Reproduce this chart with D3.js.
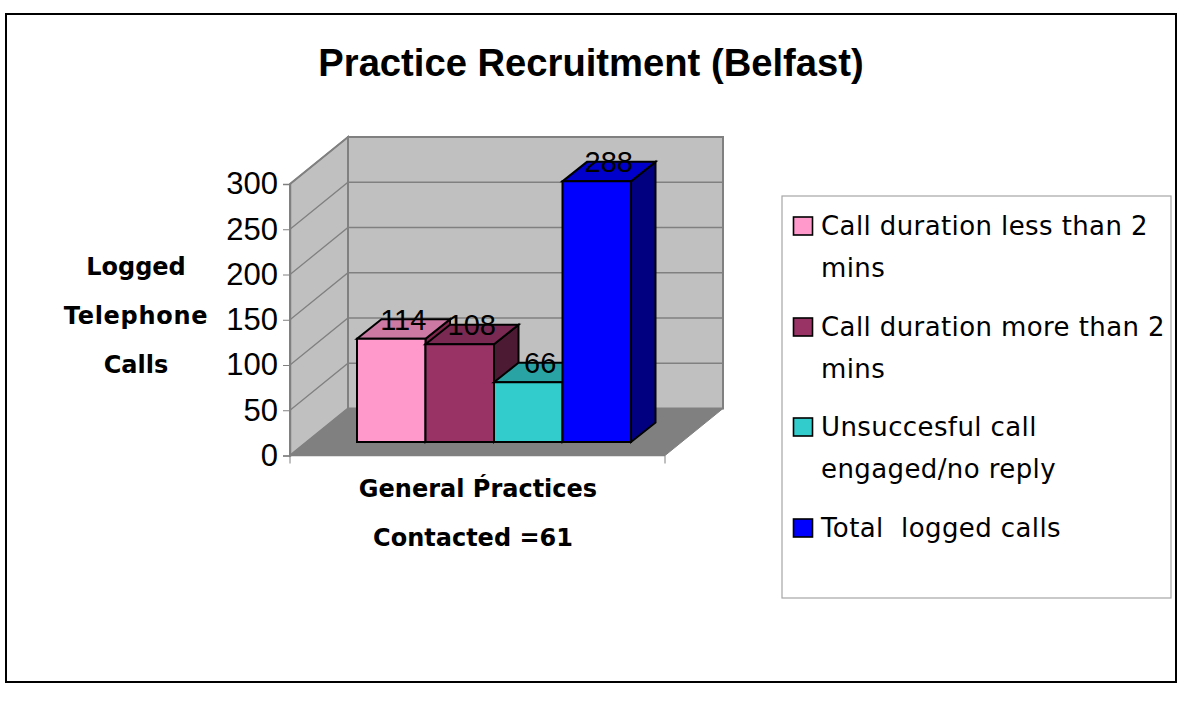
<!DOCTYPE html>
<html>
<head>
<meta charset="utf-8">
<script src="https://cdn.jsdelivr.net/npm/d3@7"></script>
<style>
html, body { margin: 0; padding: 0; background: white; }
svg { display: block; }
</style>
</head>
<body>
<script>
var seriesNames = ['Call duration less than 2 mins', 'Call duration more than 2 mins', 'Unsuccesful call engaged/no reply', 'Total  logged calls'];
var seriesValues = [114, 108, 66, 288];
var yTicks = [0, 50, 100, 150, 200, 250, 300];
var legendLines = [['Call duration less than 2', 'mins'], ['Call duration more than 2', 'mins'], ['Unsuccesful call', 'engaged/no reply'], ['Total  logged calls']];
var yLabelLines = ['Logged', 'Telephone', 'Calls'];
var xLabelLines = ['General Ṕractices', 'Contacted =61'];

var frontColors = ['#ff99cc', '#993366', '#33cccc', '#0000ff'];
var topColors = ['#cc7aa3', '#7a2952', '#29a3a3', '#0000cc'];
var sideColors = ['#80264d', '#4d1a33', '#1a6666', '#000080'];

var svg = d3.select('body').append('svg').attr('width', 1200).attr('height', 708);

svg.append('rect')
    .attr('x', 6).attr('y', 14).attr('width', 1170).attr('height', 668)
    .style('fill', 'white').style('stroke', 'black').style('stroke-width', 2);

svg.append('text')
    .attr('x', 591).attr('y', 76)
    .text('Practice Recruitment (Belfast)')
    .attr('text-anchor', 'middle')
    .style('font-family', '"Liberation Sans"')
    .style('font-weight', 'bold')
    .style('font-size', '38.2px');

// wall depth and plot frame
var depthX = 58, depthY = -47;
var left = 290, right = 665;
var y = d3.scaleLinear().domain([0, 300]).range([455.5, 184]);
var y0 = y(0), yTop = y(300);

function poly(points, fill, stroke, width) {
    return svg.append('polygon')
        .attr('points', points.map(function(p) { return p.join(','); }).join(' '))
        .style('fill', fill)
        .style('stroke', stroke)
        .style('stroke-width', width)
        .style('stroke-linejoin', 'miter');
}

// side wall, back wall, floor
poly([[left, y0], [left + depthX, y0 + depthY], [left + depthX, yTop + depthY], [left, yTop]], '#c0c0c0', '#808080', 2);
poly([[left + depthX, y0 + depthY], [right + depthX, y0 + depthY], [right + depthX, yTop + depthY], [left + depthX, yTop + depthY]], '#c0c0c0', '#808080', 2);
poly([[left, y0], [right, y0], [right + depthX, y0 + depthY], [left + depthX, y0 + depthY]], '#808080', '#808080', 1);

yTicks.slice(1).forEach(function(t) {
    svg.append('path')
        .attr('d', d3.line()([[left, y(t)], [left + depthX, y(t) + depthY], [right + depthX, y(t) + depthY]]))
        .style('fill', 'none')
        .style('stroke', '#808080')
        .style('stroke-width', 1.3);
});

// axis
var yAxis = svg.append('g')
    .attr('transform', 'translate(' + left + ',0)')
    .call(d3.axisLeft(y).tickValues(yTicks).tickSize(7).tickPadding(5));
yAxis.select('.domain').style('stroke', '#808080').style('stroke-width', 1.5);
yAxis.selectAll('line').style('stroke', '#808080');
yAxis.selectAll('text')
    .style('font-family', '"Liberation Sans"')
    .style('font-size', '31px')
    .style('fill', 'black');

// x axis base and end ticks
svg.append('line').attr('x1', left).attr('x2', right).attr('y1', y0).attr('y2', y0).style('stroke', '#808080').style('stroke-width', 1.5);
[left, right].forEach(function(t) {
    svg.append('line').attr('x1', t).attr('x2', t).attr('y1', y0).attr('y2', y0 + 8).style('stroke', '#808080').style('stroke-width', 1);
});

// bars stand a little way into the floor
var barOffsetX = 17, barOffsetY = -13.5;
var barDepthX = 24.5, barDepthY = -19.5;
var x = d3.scaleBand().domain(d3.range(seriesValues.length)).range([357, 631]);
var barY = d3.scaleLinear().domain([0, 300]).range([y0 + barOffsetY, yTop + barOffsetY]);

seriesValues.forEach(function(v, i) {
    var x0 = x(i), x1 = x(i) + x.bandwidth();
    var b = barY(0), t = barY(v);
    poly([[x1, b], [x1 + barDepthX, b + barDepthY], [x1 + barDepthX, t + barDepthY], [x1, t]], sideColors[i], 'black', 2);
    poly([[x0, t], [x1, t], [x1 + barDepthX, t + barDepthY], [x0 + barDepthX, t + barDepthY]], topColors[i], 'black', 2);
    poly([[x0, b], [x1, b], [x1, t], [x0, t]], frontColors[i], 'black', 2);
});

// value labels go on top of all bars
seriesValues.forEach(function(v, i) {
    svg.append('text')
        .attr('x', x(i) + x.bandwidth() / 2 + 12)
        .attr('y', barY(v) - 9)
        .text(v)
        .attr('text-anchor', 'middle')
        .style('font-family', '"Liberation Sans"')
        .style('font-size', '29px')
        .style('fill', 'black');
});

function boldLabel(cx, by, text) {
    svg.append('text')
        .attr('x', cx)
        .attr('y', by)
        .text(text)
        .attr('text-anchor', 'middle')
        .style('font-family', '"DejaVu Sans"')
        .style('font-weight', 'bold')
        .style('font-size', '24px')
        .style('letter-spacing', text === 'Telephone' ? '0.7px' : '0px');
}
yLabelLines.forEach(function(d, i) { boldLabel(136, 275 + i * 49, d); });
xLabelLines.forEach(function(d, i) { boldLabel(i === 0 ? 478 : 473, 497 + i * 49, d); });

// legend
svg.append('rect')
    .attr('x', 782).attr('y', 196).attr('width', 389).attr('height', 402)
    .style('fill', 'white').style('stroke', '#a6a6a6').style('stroke-width', 1.2);

var legendTop = [235, 336, 436, 537];
legendLines.forEach(function(lines, i) {
    svg.append('rect')
        .attr('x', 793.5).attr('y', legendTop[i] - 18).attr('width', 19).attr('height', 18)
        .style('fill', frontColors[i]).style('stroke', 'black').style('stroke-width', 1.6);
    lines.forEach(function(d, j) {
        svg.append('text')
            .attr('x', 821)
            .attr('y', legendTop[i] + j * 41.5)
            .text(d)
            .attr('xml:space', 'preserve')
            .style('white-space', 'pre')
            .style('font-family', '"DejaVu Sans"')
            .style('font-size', '26px')
            .style('letter-spacing', '0.4px');
    });
});
</script>
</body>
</html>
